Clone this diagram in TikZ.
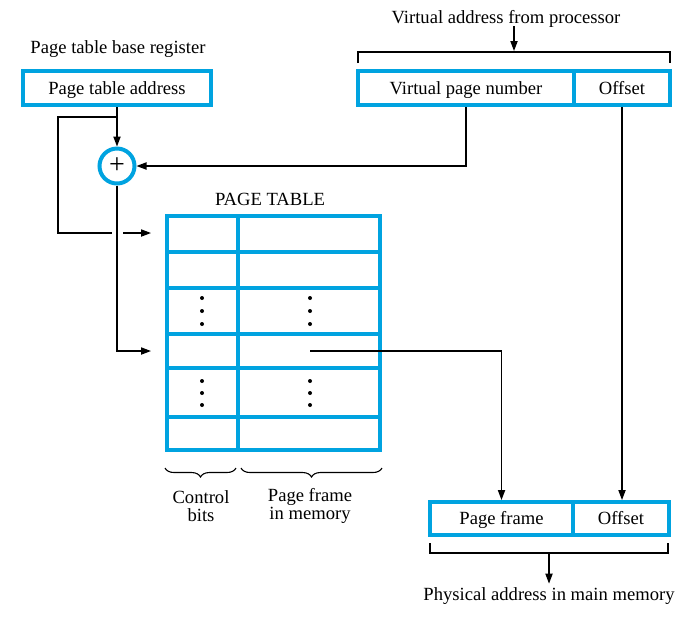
\documentclass[tikz,border=0pt]{standalone}
\usepackage{fontspec}
\setmainfont{Liberation Serif}
\usetikzlibrary{arrows.meta,decorations.pathreplacing,calc}
\definecolor{cblue}{RGB}{0,163,224}
\begin{document}
\begin{tikzpicture}[x=0.5pt,y=-0.5pt,
  font=\fontsize{9.3}{9.2}\selectfont,
  bluebox/.style={draw=cblue,line width=2pt,minimum height=17pt,inner sep=0pt,anchor=center,text height=0.8em,text depth=0.2em},
  blueline/.style={draw=cblue,line width=2pt},
  conn/.style={line width=0.65pt},
  arr/.style={conn,-{Triangle[length=5pt,width=3.6pt]}},
  lbl/.style={inner sep=0pt,anchor=center,text height=0.8em,text depth=0.2em},
  mlbl/.style={inner sep=0pt,anchor=center,align=center},
  bracebelow/.style={line width=0.55pt,decorate,decoration={brace,mirror,amplitude=4.5pt}}
]
\useasboundingbox (0,0) rectangle (688,618);

% Page table base register
\node[lbl] (ptbrlabel) at (118,47) {Page table base register};
\node[bluebox,minimum width=94pt] (ptbox) at (117,88) {Page table address};
\node[draw=cblue,line width=2pt,circle,minimum size=17.5pt,inner sep=0pt] (plus) at (117,166) {\fontsize{14}{14}\selectfont +};

% Virtual address
\node[lbl] (valabel) at (506,17) {Virtual address from processor};
\node[bluebox,minimum width=108pt] (vpn) at (466,88) {Virtual page number};
\node[bluebox,minimum width=48pt] (voff) at (622,88) {Offset};
\draw[conn] (358,63) -- (358,52) -- (670,52) -- (670,63);
\coordinate (vatip) at (514,51);
\draw[arr] (514,26) -- (vatip);

% Page table
\node[lbl] (ptlabel) at (270,199) {PAGE TABLE};
\draw[blueline] (167,216) rectangle (380,450);
\foreach \y in {252,288,334,368,417} \draw[blueline] (167,\y) -- (380,\y);
\draw[blueline] (238,216) -- (238,450);
\foreach \x in {202,310} \foreach \y in {298,311,324,381,393,405} \fill (\x,\y) circle (1pt);
\coordinate (row1) at (151,233);
\coordinate (row4) at (151,351);
\coordinate (row4pf) at (310,351);

\draw[bracebelow] (165,468) -- (236,468);
\draw[bracebelow] (241,468) -- (382,468);
\node[mlbl] (cb) at (201,506) {Control\\bits};
\node[mlbl] (pfm) at (310,506) {Page frame\\in memory};

% Physical address
\node[bluebox,minimum width=71.5pt,minimum height=16.5pt] (pf) at (501.5,518.5) {Page frame};
\node[bluebox,minimum width=48pt,minimum height=16.5pt] (poff) at (621,518.5) {Offset};
\draw[conn] (430,543) -- (430,553) -- (668,553) -- (668,543);
\node[lbl] (palabel) at (549,594) {Physical address in main memory};
\draw[arr] (549,553) -- (palabel.north);

% Connectors
\draw[arr] (ptbox.south) -- (plus.north);
\coordinate (br) at (117,117);
\draw[conn] (br) -- (58,117) -- (58,233) -- (112,233);
\draw[arr] (123,233) -- (row1);
\draw[arr] (plus.south) |- (row4);
\draw[arr] (vpn.south) |- (plus.east);
\draw[arr] (voff.south) -- (voff.south |- poff.north);
\draw[arr] (row4pf) -| (pf.north);
\end{tikzpicture}
\end{document}
